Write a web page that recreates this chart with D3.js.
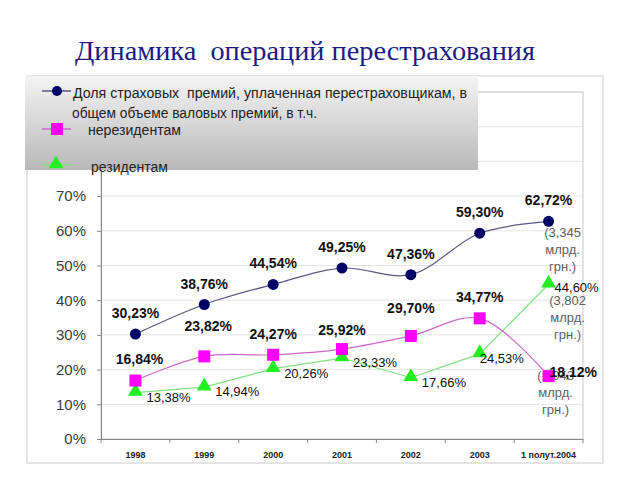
<!DOCTYPE html>
<html><head><meta charset="utf-8">
<script src="https://cdn.jsdelivr.net/npm/d3@7"></script>
<style>body{margin:0;background:#fff}svg{display:block}</style>
</head><body>
<svg id="c" width="640" height="480"></svg>
<script>
const categories = ["1998","1999","2000","2001","2002","2003","1 полут.2004"];
const totalShare = [30.23,38.76,44.54,49.25,47.36,59.30,62.72];
const nonResidents = [16.84,23.82,24.27,25.92,29.70,34.77,18.12];
const residents = [13.38,14.94,20.26,23.33,17.66,24.53,44.60];
const yTicks = [0,10,20,30,40,50,60,70,80,90,100];
const noteTotal = ["(3,345","млрд.","грн.)"];
const noteResidents = ["(3,802","млрд.","грн.)"];
const noteNonResidents = ["(1,043","млрд.","грн.)"];
const titleText = "Динамика  операций перестрахования";
const legendLabels = ["Доля страховых  премий, уплаченная перестраховщикам, в|общем объеме валовых премий, в т.ч.","нерезидентам","резидентам"];

const svg = d3.select("#c");
const L=101,R=583,T=92,B=439;
const x = d3.scaleBand().domain(categories).range([L,R]);
const y = d3.scaleLinear().domain([0,100]).range([B,T]);
const cx = i => x(categories[i]) + x.bandwidth()/2;
const fmt = v => d3.format(".2f")(v).replace(".",",") + "%";

// title
svg.append("text").attr("x",75).attr("y",60).attr("font-family","Liberation Serif, Times New Roman, serif")
  .attr("font-size",27).attr("fill","#1c1c82").style("white-space","pre")
  .attr("textLength",460).attr("lengthAdjust","spacingAndGlyphs").text(titleText);

// outer frame
svg.append("rect").attr("x",27).attr("y",76).attr("width",576).attr("height",387)
  .attr("fill","none").attr("stroke","#dcdcdc").attr("stroke-width",1.5);

// gridlines
svg.append("g").selectAll("line").data(yTicks.filter(d=>d>0)).join("line")
  .attr("x1",L).attr("x2",R).attr("y1",d=>y(d)).attr("y2",d=>y(d))
  .attr("stroke","#e4e4e4").attr("stroke-width",1);
// plot border
svg.append("rect").attr("x",L).attr("y",T).attr("width",R-L).attr("height",B-T)
  .attr("fill","none").attr("stroke","#c8c8c8").attr("stroke-width",1);

// y axis (labels above 70% are hidden behind the legend in the reference)
const yAxis = svg.append("g").attr("transform",`translate(${L},0)`)
  .call(d3.axisLeft(y).tickValues(yTicks).tickFormat(d=>d<=70? d+"%" : "").tickSize(4).tickPadding(11));
yAxis.select(".domain").attr("stroke","#888");
yAxis.selectAll(".tick line").attr("stroke","#888");
yAxis.selectAll("text").attr("font-family","Arial, Liberation Sans, sans-serif").attr("font-size",15).attr("fill","#3a3a3a");

// x axis
const xAxis = svg.append("g").attr("transform",`translate(0,${B})`)
  .call(d3.axisBottom(x).tickSize(0).tickPadding(13));
xAxis.select(".domain").attr("stroke","#888");
xAxis.selectAll("text").attr("font-family","Arial, Liberation Sans, sans-serif").attr("font-size",9).attr("font-weight","bold").attr("fill","#222");
svg.append("g").selectAll("line").data(d3.range(categories.length+1)).join("line")
  .attr("x1",i=>L+i*x.step()).attr("x2",i=>L+i*x.step()).attr("y1",B).attr("y2",B+4)
  .attr("stroke","#888");

// lines
const smooth = d3.line().x((d,i)=>cx(i)).y(d=>y(d)).curve(d3.curveCatmullRom.alpha(0.5));
const straight = d3.line().x((d,i)=>cx(i)).y(d=>y(d));
svg.append("path").attr("d",straight(residents)).attr("fill","none").attr("stroke","#7ee07e").attr("stroke-width",1.2);
svg.append("path").attr("d",smooth(nonResidents)).attr("fill","none").attr("stroke","#cc66cc").attr("stroke-width",1.2);
svg.append("path").attr("d",smooth(totalShare)).attr("fill","none").attr("stroke","#585880").attr("stroke-width",1.2);

const font = "Arial, Liberation Sans, sans-serif";
// annotation notes (gray)
function note(lines, xc, y0){
  svg.append("g").selectAll("text").data(lines).join("text")
    .attr("x",xc).attr("y",(d,i)=>y0+i*17).attr("text-anchor","middle")
    .attr("font-family",font).attr("font-size",13).attr("fill","#606060").text(d=>d);
}
note(noteTotal, cx(6)+14, y(totalShare[6])+16);
note(noteResidents, cx(6)+19, y(residents[6])+21);
note(noteNonResidents, cx(6)+7, y(nonResidents[6])+4);

// markers
const tri = d3.symbol().type(d3.symbolTriangle).size(95);
svg.append("g").selectAll("path").data(residents).join("path")
  .attr("d",tri).attr("transform",(d,i)=>`translate(${cx(i)},${y(d)-1})`).attr("fill","#22ee22");
svg.append("g").selectAll("rect").data(nonResidents).join("rect")
  .attr("x",(d,i)=>cx(i)-6).attr("y",d=>y(d)-6).attr("width",12).attr("height",12).attr("fill","#ff00ff");
svg.append("g").selectAll("circle").data(totalShare).join("circle")
  .attr("cx",(d,i)=>cx(i)).attr("cy",d=>y(d)).attr("r",5.5).attr("fill","#000066");

// value labels
svg.append("g").selectAll("text").data(totalShare).join("text")
  .attr("x",(d,i)=>cx(i)).attr("y",d=>y(d)-16).attr("text-anchor","middle")
  .attr("font-family",font).attr("font-size",14).attr("font-weight","bold").attr("fill","#111").text(fmt);
const magOff = [22,30,21,19,28,21,0];
svg.append("g").selectAll("text").data(nonResidents).join("text")
  .attr("x",(d,i)=>i===6? cx(i)+1 : cx(i)+(i===0?4:(i===1?4:0)))
  .attr("y",(d,i)=>i===6? y(d)+1 : y(d)-magOff[i]+5)
  .attr("text-anchor",(d,i)=>i===6?"start":"middle")
  .attr("font-family",font).attr("font-size",14).attr("font-weight","bold").attr("fill","#111").text(fmt);
svg.append("g").selectAll("text").data(residents).join("text")
  .attr("x",(d,i)=>cx(i)+(i===5?0:(i===6?6:11))).attr("y",(d,i)=>y(d)+(i===6?8:9))
  .attr("font-family",font).attr("font-size",13).attr("fill","#111").text(fmt);

// legend
const defs = svg.append("defs");
const grad = defs.append("linearGradient").attr("id","lg").attr("x1",0).attr("y1",0).attr("x2",0).attr("y2",1);
grad.append("stop").attr("offset","0%").attr("stop-color","#f4f4f4");
grad.append("stop").attr("offset","100%").attr("stop-color","#b8b8b8");
svg.append("rect").attr("x",25).attr("y",76).attr("width",453).attr("height",94).attr("fill","url(#lg)");
const lg = svg.append("g");
const keyX = 57;
const keyY = [91,129,165];
keyY.forEach((yy,k)=>{
  const col = ["#000066","#ff00ff","#22ee22"][k];
  const lc = ["#585880","#cc66cc","#7ee07e"][k];
  lg.append("line").attr("x1",keyX-15).attr("x2",keyX+14).attr("y1",yy).attr("y2",yy).attr("stroke",lc).attr("stroke-width",1.5);
  if(k===0) lg.append("circle").attr("cx",keyX).attr("cy",yy).attr("r",5).attr("fill",col);
  if(k===1) lg.append("rect").attr("x",keyX-6).attr("y",yy-6).attr("width",12).attr("height",12).attr("fill",col);
  if(k===2) lg.append("path").attr("d",tri).attr("transform",`translate(${keyX-1},${yy-1})`).attr("fill",col);
});
const l0 = legendLabels[0].split("|");
lg.append("text").attr("x",73).attr("y",98).attr("font-family",font).attr("font-size",14).attr("fill","#222").style("white-space","pre").attr("textLength",394).attr("lengthAdjust","spacingAndGlyphs").text(l0[0]);
lg.append("text").attr("x",72).attr("y",118).attr("font-family",font).attr("font-size",14).attr("fill","#222").attr("textLength",245).attr("lengthAdjust","spacingAndGlyphs").text(l0[1]);
lg.append("text").attr("x",88).attr("y",135).attr("font-family",font).attr("font-size",14).attr("fill","#222").attr("textLength",93).attr("lengthAdjust","spacingAndGlyphs").text(legendLabels[1]);
lg.append("text").attr("x",91).attr("y",172).attr("font-family",font).attr("font-size",14).attr("fill","#222").attr("textLength",77).attr("lengthAdjust","spacingAndGlyphs").text(legendLabels[2]);
</script>
</body></html>
